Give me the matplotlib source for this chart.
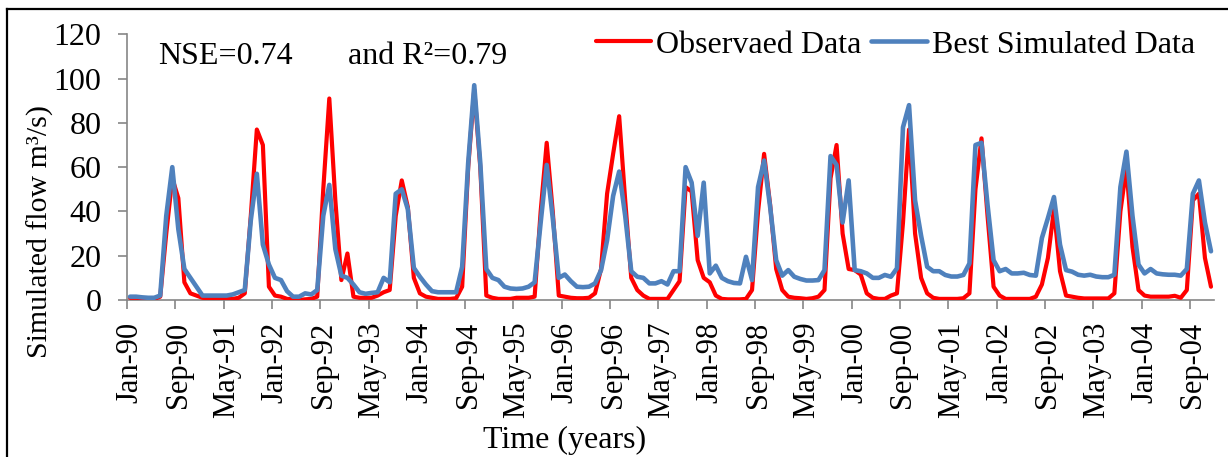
import matplotlib
matplotlib.use("Agg")
import matplotlib.pyplot as plt
from matplotlib.lines import Line2D

plt.rcParams['font.family'] = ['Liberation Serif', 'DejaVu Serif']

# Monthly series, Jan-1990 .. Dec-2004 (180 months)
observed = [
    1, 1, 0.8, 0.5, 0.5, 1.5, 30, 55, 46, 8, 3, 2,
    1, 0.8, 0.5, 0.5, 0.5, 0.5, 1, 3, 38, 77, 70, 6,
    2, 1.5, 0.5, 0.3, 0, 0.3, 0.5, 1.5, 50, 91, 45, 9,
    21, 1.5, 1, 1, 1, 2, 3.5, 4.5, 38, 54, 42, 10,
    3, 1.5, 1, 0.5, 0.5, 0.5, 0.8, 6, 60, 95, 60, 2,
    1, 0.5, 0.5, 0.5, 1, 1, 1, 1.5, 40, 71, 40, 2,
    1.5, 1, 0.8, 0.8, 1, 3, 14, 48, 66, 83, 45, 10,
    4.5, 2, 0.5, 0.5, 0.5, 0.5, 4.5, 8.5, 51, 49, 18, 10,
    8, 2, 0.5, 0.3, 0.3, 0.3, 0.5, 4.5, 40, 66, 43, 14,
    4.5, 1.5, 1, 0.8, 0.5, 0.8, 1.5, 4.5, 55, 70, 30, 14,
    13.5, 11.5, 3, 1, 0.5, 0.5, 2, 3, 35, 77, 30, 10,
    3, 1, 0.5, 0.5, 0.5, 0.5, 0.8, 3, 50, 73, 38, 6,
    2, 0.5, 0.5, 0.5, 0.5, 0.5, 1.5, 7, 19, 41, 13, 2,
    1.5, 1, 0.7, 0.7, 0.7, 0.7, 0.7, 3, 40, 60, 24, 4.5,
    2, 1.5, 1.5, 1.5, 1.5, 1.9, 1, 4.5, 45, 48, 19, 6,
]
simulated = [
    1.5, 1.5, 1.2, 1.0, 1.0, 2.0, 38, 60, 32, 14, 10, 6,
    2, 2, 2, 2, 2, 2.5, 3.5, 4.5, 36, 57, 25, 16,
    10, 9, 4, 1.5, 1.5, 3, 2.5, 4.5, 38, 52, 23, 11,
    10, 7, 3.5, 2.8, 3.2, 3.5, 10, 8, 48, 50, 41, 14.5,
    10.5, 7, 4, 3.5, 3.5, 3.5, 3.5, 15, 62, 97, 62, 14,
    10, 9, 6, 5.2, 5, 5.2, 6, 8, 35, 61, 37, 10,
    11.5, 8.5, 6, 5.8, 6, 7.5, 13.5, 27, 47, 58, 38, 13,
    10.5, 10, 7.5, 7.5, 8.5, 7, 13, 13, 60, 53, 29, 53,
    12, 15.5, 10, 8.5, 7.7, 7.5, 19.5, 9, 51, 63, 42, 18,
    11, 13.5, 10.5, 9.5, 8.8, 8.8, 9, 13.5, 65, 61, 35, 54,
    13.5, 13, 12, 10, 10, 11.3, 10.5, 14.3, 78, 88, 45, 29,
    15, 13, 13, 11.3, 10.6, 10.6, 11.3, 16.5, 70, 71, 43, 18,
    13, 14, 12, 12, 12.3, 11.3, 11, 28, 37, 46.5, 25, 13.5,
    12.8, 11.4, 11, 11.4, 10.6, 10.3, 10.3, 11.4, 51, 67, 38, 16,
    12, 14, 12, 11.6, 11.4, 11.4, 11, 14, 48, 54, 35, 22,
]
tick_labels = ['Jan-90', 'Sep-90', 'May-91', 'Jan-92', 'Sep-92', 'May-93',
               'Jan-94', 'Sep-94', 'May-95', 'Jan-96', 'Sep-96', 'May-97',
               'Jan-98', 'Sep-98', 'May-99', 'Jan-00', 'Sep-00', 'May-01',
               'Jan-02', 'Sep-02', 'May-03', 'Jan-04', 'Sep-04']
label_step = 8
series_names = ['Observaed Data', 'Best Simulated Data']

W, H = 1228, 457
fig = plt.figure(figsize=(W / 100, H / 100), dpi=100)
ax = fig.add_axes([127 / W, 1 - 300 / H, (1214 - 127) / W, (300 - 34.3) / H])

months = list(range(len(observed)))
ax.plot(months, observed, color='#FF0000', lw=3.0, solid_joinstyle='round',
        solid_capstyle='round', label=series_names[0], zorder=3)
ax.plot(months, simulated, color='#4F81BD', lw=3.3, solid_joinstyle='round',
        solid_capstyle='round', label=series_names[1], zorder=4)

n = len(observed)
ax.set_xlim(-0.5, n - 0.5)
ax.set_ylim(0, 120)
ax.set_yticks(range(0, 121, 20))

label_pos = [k * label_step for k in range(len(tick_labels))]
ax.set_xticks(label_pos)
ax.set_xticklabels(tick_labels, rotation=90, fontsize=22)
ax.set_xticks([p - 0.5 for p in label_pos], minor=True)
ax.tick_params(axis='x', which='major', length=0, pad=15.5)
ax.tick_params(axis='x', which='minor', length=6.5, width=1.2, color='#868686')
ax.tick_params(axis='y', length=6.5, width=1.2, color='#868686', labelsize=23, pad=12)

for s in ['top', 'right']:
    ax.spines[s].set_visible(False)
for s in ['left', 'bottom']:
    ax.spines[s].set_color('#868686')
    ax.spines[s].set_linewidth(1.2)

fig.text(40 / W, 1 - 232 / H, 'Simulated flow m³/s)', rotation=90,
         ha='center', va='center', fontsize=21.5)
fig.text(565 / W, 1 - 440 / H, 'Time (years)', ha='center', va='center', fontsize=23)
fig.text(158 / W, 1 - 57 / H, 'NSE=0.74', ha='left', va='center', fontsize=23)
fig.text(348 / W, 1 - 57 / H, 'and R²=0.79', ha='left', va='center', fontsize=23)

ax.legend(loc='center right', bbox_to_anchor=(1195 / W, 1 - 45 / H),
          bbox_transform=fig.transFigure, ncol=2, frameon=False, fontsize=23,
          handlelength=1.75, handletextpad=0.15, columnspacing=0.3,
          borderpad=0, borderaxespad=0)

fig.add_artist(Line2D([7 / W, 7 / W], [0, 1 - 9 / H], color='black', lw=1.6,
                      transform=fig.transFigure))
fig.add_artist(Line2D([7 / W, 1], [1 - 9 / H, 1 - 9 / H], color='black', lw=1.6,
                      transform=fig.transFigure))

fig.savefig('out.png', dpi=100)
